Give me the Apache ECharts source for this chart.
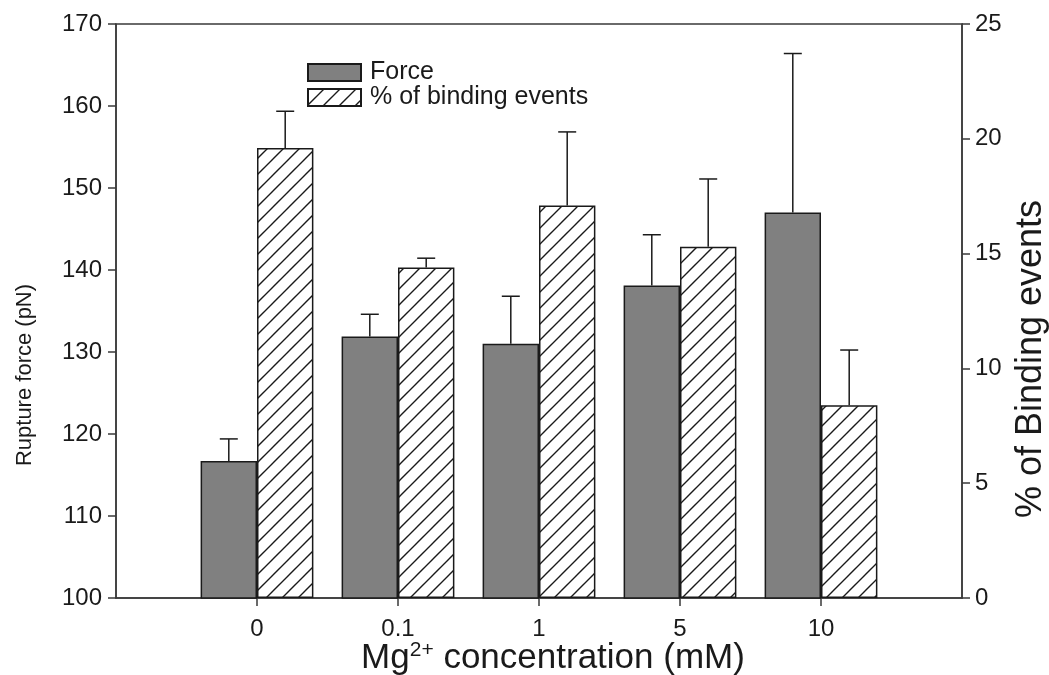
<!DOCTYPE html>
<html>
<head>
<meta charset="utf-8">
<title>Rupture force and binding events vs Mg2+ concentration</title>
<script src="https://cdn.jsdelivr.net/npm/echarts@6/dist/echarts.min.js"></script>
<style>
  html, body { margin: 0; padding: 0; background: #ffffff; }
  #chart { width: 1049px; height: 675px; }
</style>
</head>
<body>
<div id="chart"></div>
<script>
// Mg2+ concentrations (mM)
const categories = ['0', '0.1', '1', '5', '10'];
// Mean rupture force (pN) and its error (upper whisker)
const forceValues = [116.7, 131.9, 131.0, 138.1, 147.0];
const forceErrors = [2.7, 2.7, 5.8, 6.2, 19.4];
// Share of binding events (%) and its error
const bindingValues = [19.6, 14.4, 17.1, 15.3, 8.4];
const bindingErrors = [1.6, 0.4, 3.2, 2.95, 2.4];
// Axis ticks
const forceTicks = { min: 100, max: 170, step: 10 };
const bindingTicks = { min: 0, max: 25, step: 5 };

const FONT = "'Liberation Sans', Arial, Helvetica, sans-serif";
const INK = '#1a1a1a';
const AXIS = '#3a3a3a';

// One empty slot on each side of the categories so the groups sit between the frame edges
const axisCategories = [''].concat(categories, ['']);
const padded = arr => ['-'].concat(arr, ['-']);

// Diagonal hatch fill for the binding-events bars
function makeHatch() {
  const size = 16;
  const c = document.createElement('canvas');
  c.width = size; c.height = size;
  const g = c.getContext('2d');
  g.fillStyle = '#ffffff';
  g.fillRect(0, 0, size, size);
  g.strokeStyle = '#1a1a1a';
  g.lineWidth = 1.4;
  g.beginPath();
  g.moveTo(-2, size + 2); g.lineTo(size + 2, -2);
  g.moveTo(-4, 4); g.lineTo(4, -4);
  g.moveTo(size - 4, size + 4); g.lineTo(size + 4, size - 4);
  g.stroke();
  return c;
}
const hatch = makeHatch();

const BAR_W = '40%';

// Upper-only error whiskers with a cap, shifted onto their bar within the group
function errorRenderer(shiftSign) {
  return function (params, api) {
    const band = api.size([1, 0])[0];
    const off = shiftSign * band * 0.2;
    const base = api.coord([api.value(0), api.value(1)]);
    const top = api.coord([api.value(0), api.value(1) + api.value(2)]);
    const x = base[0] + off;
    const cap = 9;
    const style = { stroke: INK, lineWidth: 1.5, fill: null };
    return {
      type: 'group',
      children: [
        { type: 'line', shape: { x1: x, y1: base[1], x2: x, y2: top[1] }, style: style },
        { type: 'line', shape: { x1: x - cap, y1: top[1], x2: x + cap, y2: top[1] }, style: style }
      ]
    };
  };
}

const forceErrData = forceValues.map((v, i) => [i + 1, v, forceErrors[i]]);
const bindingErrData = bindingValues.map((v, i) => [i + 1, v, bindingErrors[i]]);

const chart = echarts.init(document.getElementById('chart'), null, { renderer: 'canvas' });

chart.setOption({
  animation: false,
  backgroundColor: '#ffffff',
  textStyle: { fontFamily: FONT, color: INK },
  grid: {
    left: 116, right: 87, top: 24, bottom: 77,
    containLabel: false,
    outerBoundsMode: 'none',
    show: true, borderColor: AXIS, borderWidth: 1.5, backgroundColor: 'transparent'
  },
  legend: {
    left: 307, top: 60,
    padding: 0,
    orient: 'vertical',
    itemWidth: 53, itemHeight: 17, itemGap: 0,
    icon: 'rect',
    data: ['Force', '% of binding events'],
    textStyle: { fontFamily: FONT, fontSize: 25, color: INK, padding: [0, 0, 0, 4] }
  },
  xAxis: {
    type: 'category',
    data: axisCategories,
    boundaryGap: false,
    name: 'Mg{sup|2+} concentration (mM)',
    nameLocation: 'middle',
    nameMoveOverlap: false,
    nameGap: 42,
    nameTextStyle: {
      fontFamily: FONT, fontSize: 35, color: INK, lineHeight: 36,
      padding: [0, 0, 0, 28],
      rich: { sup: { fontFamily: FONT, fontSize: 21, color: INK, verticalAlign: 'top', lineHeight: 24 } }
    },
    axisLine: { show: true, lineStyle: { color: AXIS, width: 1.5 } },
    axisTick: {
      show: true, length: 8, inside: false,
      interval: (idx, val) => val !== '',
      lineStyle: { color: AXIS, width: 1.5 }
    },
    axisLabel: {
      interval: 0, margin: 19,
      fontFamily: FONT, fontSize: 24, color: INK
    },
    splitLine: { show: false }
  },
  yAxis: [
    {
      type: 'value',
      position: 'left',
      min: forceTicks.min, max: forceTicks.max, interval: forceTicks.step,
      name: 'Rupture force (pN)',
      nameLocation: 'middle',
      nameGap: 80,
      nameTextStyle: { fontFamily: FONT, fontSize: 22, color: INK, padding: [0, 128, 0, 0] },
      axisLine: { show: true, lineStyle: { color: AXIS, width: 1.5 } },
      axisTick: { show: true, length: 8, inside: false, lineStyle: { color: AXIS, width: 1.5 } },
      axisLabel: { margin: 14, fontFamily: FONT, fontSize: 24, color: INK },
      splitLine: { show: false }
    },
    {
      type: 'value',
      position: 'right',
      min: bindingTicks.min, max: bindingTicks.max, interval: bindingTicks.step,
      name: '% of Binding events',
      nameLocation: 'middle',
      nameGap: 45,
      nameTextStyle: { fontFamily: FONT, fontSize: 36, color: INK, padding: [0, 96, 0, 0] },
      axisLine: { show: true, lineStyle: { color: AXIS, width: 1.5 } },
      axisTick: { show: true, length: 8, inside: false, lineStyle: { color: AXIS, width: 1.5 } },
      axisLabel: { margin: 13, fontFamily: FONT, fontSize: 24, color: INK },
      splitLine: { show: false }
    }
  ],
  series: [
    {
      name: 'Force',
      type: 'bar',
      yAxisIndex: 0,
      barWidth: BAR_W,
      barGap: '0%',
      data: padded(forceValues),
      itemStyle: { color: '#808080', borderColor: INK, borderWidth: 1.5 },
      emphasis: { disabled: true }
    },
    {
      name: '% of binding events',
      type: 'bar',
      yAxisIndex: 1,
      barWidth: BAR_W,
      barGap: '0%',
      data: padded(bindingValues),
      itemStyle: { color: { image: hatch, repeat: 'repeat' }, borderColor: INK, borderWidth: 1.5 },
      emphasis: { disabled: true }
    },
    {
      name: 'force-error',
      type: 'custom',
      yAxisIndex: 0,
      renderItem: errorRenderer(-1),
      encode: { x: 0, y: 1 },
      data: forceErrData,
      z: 3
    },
    {
      name: 'binding-error',
      type: 'custom',
      yAxisIndex: 1,
      renderItem: errorRenderer(1),
      encode: { x: 0, y: 1 },
      data: bindingErrData,
      z: 3
    }
  ]
});
</script>
</body>
</html>
